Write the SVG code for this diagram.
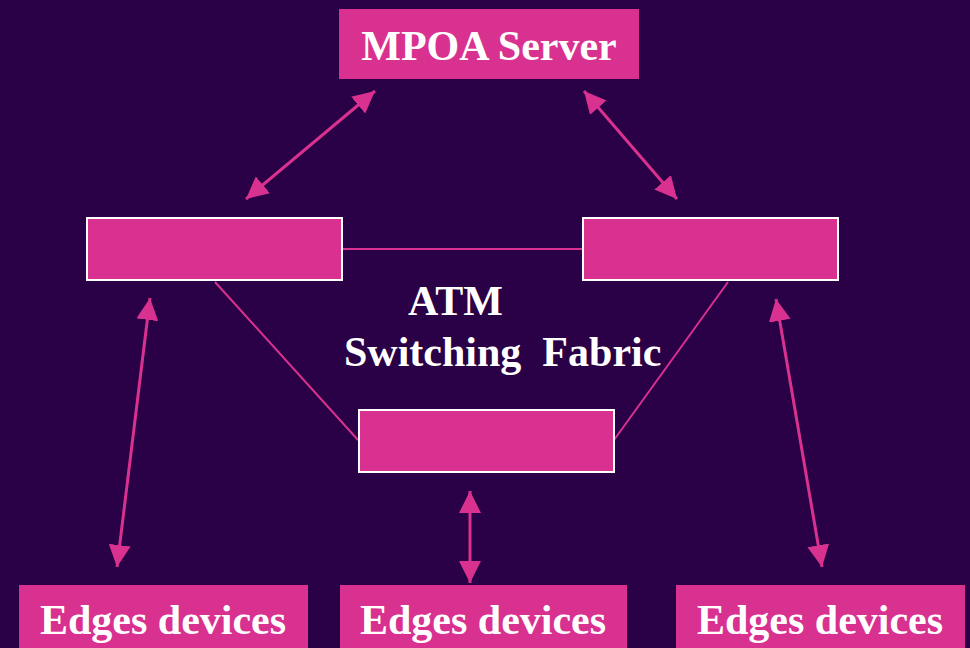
<svg xmlns="http://www.w3.org/2000/svg" width="970" height="648" viewBox="0 0 970 648">
<defs>
<style>
.bg{fill:#2a0046}
.box{fill:#d9318f}
.sw{fill:#d9318f;stroke:#ffffff;stroke-width:2}
.lbl{font-family:"Liberation Serif","Times New Roman",serif;font-weight:bold;font-size:42px;fill:#ffffff}
.link{stroke:#d9318f;stroke-width:2;fill:none}
.arr{stroke:#d9318f;stroke-width:3;fill:none;marker-start:url(#ah);marker-end:url(#ah)}
</style>
<marker id="ah" viewBox="0 0 22 22" refX="22" refY="11" markerWidth="22" markerHeight="22" markerUnits="userSpaceOnUse" orient="auto-start-reverse">
<path d="M0,0 L22,11 L0,22 z" fill="#d9318f"/>
</marker>
</defs>
<rect class="bg" x="0" y="0" width="970" height="648"/>
<g id="connectors">
<line class="link" x1="343" y1="249" x2="582" y2="249"/>
<line class="link" x1="215" y1="282" x2="358" y2="440"/>
<line class="link" x1="728" y1="282" x2="614" y2="440"/>
<line class="arr" x1="246" y1="199" x2="375" y2="91"/>
<line class="arr" x1="584" y1="91" x2="677" y2="199"/>
<line class="arr" x1="150" y1="298" x2="117" y2="567"/>
<line class="arr" x1="776" y1="299" x2="822" y2="567"/>
<line class="arr" x1="470" y1="491" x2="470" y2="583"/>
</g>
<g id="mpoa-server">
<rect class="box" x="339" y="9" width="300" height="70"/>
<text class="lbl" x="489" y="60" text-anchor="middle">MPOA Server</text>
</g>
<g id="switch-left">
<rect class="sw" x="87" y="218" width="255" height="62"/>
</g>
<g id="switch-right">
<rect class="sw" x="583" y="218" width="255" height="62"/>
</g>
<g id="switch-bottom">
<rect class="sw" x="359" y="410" width="255" height="62"/>
</g>
<g id="atm-label">
<text class="lbl" x="408" y="315">ATM</text>
<text class="lbl" x="344" y="366" xml:space="preserve" style="white-space:pre">Switching  Fabric</text>
</g>
<g id="edge-left">
<rect class="box" x="19" y="585" width="289" height="70"/>
<text class="lbl" x="163" y="634" text-anchor="middle">Edges devices</text>
</g>
<g id="edge-middle">
<rect class="box" x="340" y="585" width="287" height="70"/>
<text class="lbl" x="483" y="634" text-anchor="middle">Edges devices</text>
</g>
<g id="edge-right">
<rect class="box" x="676" y="585" width="289" height="70"/>
<text class="lbl" x="820" y="634" text-anchor="middle">Edges devices</text>
</g>
</svg>
